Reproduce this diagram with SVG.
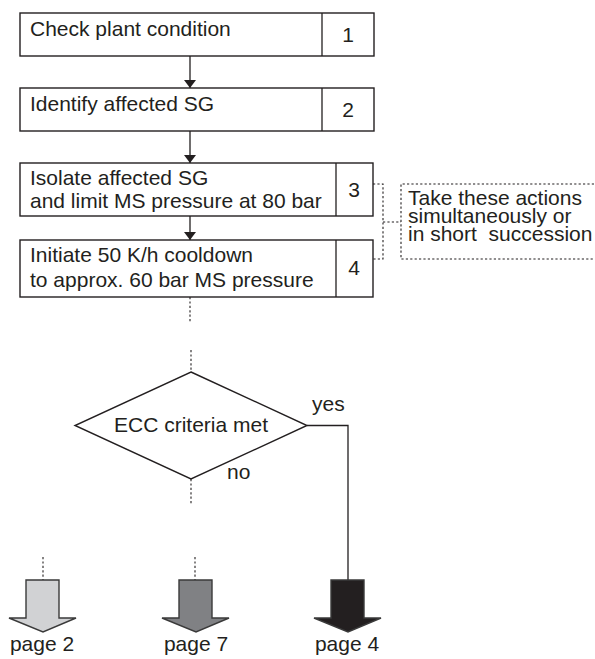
<svg xmlns="http://www.w3.org/2000/svg" width="595" height="659" viewBox="0 0 595 659">
<style>
  .box { fill: #ffffff; stroke: #231f20; stroke-width: 1.4; }
  .t { font-family: "Liberation Sans", Arial, sans-serif; font-size: 21px; fill: #231f20; }
  .c { text-anchor: middle; }
  .ln { fill: none; stroke: #231f20; stroke-width: 1.3; }
  .dash { fill: none; stroke: #231f20; stroke-width: 1.1; stroke-dasharray: 2.2 2.2; }
  .arr { stroke: #3a3a3a; stroke-width: 1.4; stroke-linejoin: miter; }
</style>
<defs>
  <marker id="ah" viewBox="0 0 8 12" refX="8" refY="6" markerWidth="8" markerHeight="12" markerUnits="userSpaceOnUse" orient="auto">
    <path d="M0,0 L8,6 L0,12 z" fill="#231f20"/>
  </marker>
</defs>
<rect width="595" height="659" fill="#ffffff"/>

<g id="connectors">
  <line class="ln" x1="190" y1="56" x2="190" y2="88" marker-end="url(#ah)"/>
  <line class="ln" x1="190" y1="131" x2="190" y2="163" marker-end="url(#ah)"/>
  <line class="ln" x1="190" y1="216" x2="190" y2="240" marker-end="url(#ah)"/>
  <line class="dash" x1="190" y1="297" x2="190" y2="323"/>
  <line class="dash" x1="191" y1="350" x2="191" y2="372"/>
  <line class="dash" x1="191" y1="479" x2="191" y2="505"/>
  <line class="dash" x1="43" y1="557" x2="43" y2="580"/>
  <line class="dash" x1="195" y1="557" x2="195" y2="580"/>
  <polyline class="ln" points="307,425.5 348,425.5 348,580"/>
  <polyline class="dash" points="373,184 383,184 383,259 373,259"/>
  <line class="dash" x1="383" y1="222" x2="401" y2="222"/>
</g>

<g id="node1">
  <rect class="box" x="20" y="13" width="354" height="43"/>
  <line class="ln" x1="322" y1="13" x2="322" y2="56"/>
  <text class="t" x="30" y="36">Check plant condition</text>
  <text class="t c" x="348" y="42">1</text>
</g>

<g id="node2">
  <rect class="box" x="20" y="88" width="354" height="43"/>
  <line class="ln" x1="322" y1="88" x2="322" y2="131"/>
  <text class="t" x="30" y="111">Identify affected SG</text>
  <text class="t c" x="348" y="117">2</text>
</g>

<g id="node3">
  <rect class="box" x="20" y="163" width="353" height="53"/>
  <line class="ln" x1="336" y1="163" x2="336" y2="216"/>
  <text class="t" x="30" y="185">Isolate affected SG</text>
  <text class="t" x="30" y="208">and limit MS pressure at 80 bar</text>
  <text class="t c" x="354" y="197">3</text>
</g>

<g id="node4">
  <rect class="box" x="20" y="240" width="353" height="57"/>
  <line class="ln" x1="336" y1="240" x2="336" y2="297"/>
  <text class="t" x="30" y="262">Initiate 50 K/h cooldown</text>
  <text class="t" x="30" y="287">to approx. 60 bar MS pressure</text>
  <text class="t c" x="354" y="275">4</text>
</g>

<g id="note">
  <path class="dash" d="M594,184 L401,184 L401,259 L594,259"/>
  <text class="t" x="408" y="205">Take these actions</text>
  <text class="t" x="408" y="223">simultaneously or</text>
  <text class="t" x="408" y="241" xml:space="preserve" style="white-space:pre">in short  succession</text>
</g>

<g id="decision">
  <polygon class="box" points="191,372 307,425.5 191,479 75,425.5"/>
  <text class="t c" x="191" y="432">ECC criteria met</text>
  <text class="t" x="312" y="411">yes</text>
  <text class="t" x="227" y="479">no</text>
</g>

<g id="page2">
  <polygon class="arr" fill="#d1d2d4" points="26,580 59,580 59,618 76,618 43,632 9,618 26,618"/>
  <text class="t c" x="42" y="651">page 2</text>
</g>

<g id="page7">
  <polygon class="arr" fill="#808184" points="179,580 212,580 212,618 229,618 196,632 162,618 179,618"/>
  <text class="t c" x="196" y="651">page 7</text>
</g>

<g id="page4">
  <polygon class="arr" fill="#231f20" points="331,580 364,580 364,618 381,618 348,632 314,618 331,618"/>
  <text class="t c" x="347" y="651">page 4</text>
</g>
</svg>
